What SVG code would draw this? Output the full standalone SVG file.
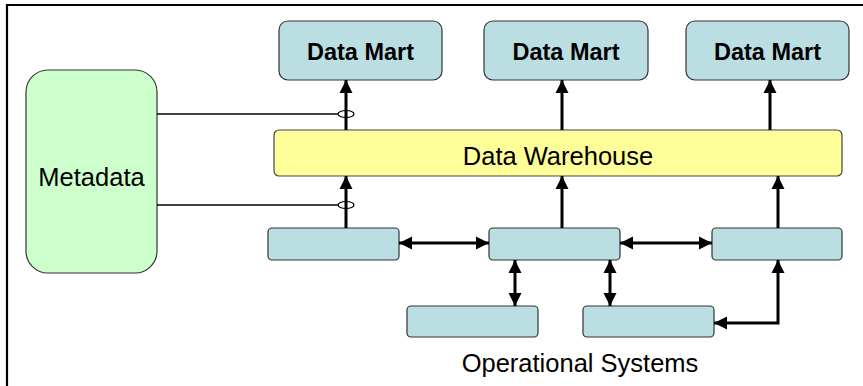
<svg xmlns="http://www.w3.org/2000/svg" width="863" height="386" viewBox="0 0 863 386">
  <style>
    .mart { fill: #BBDEE2; stroke: #333; stroke-width: 1.2; }
    .ops { fill: #BBDEE2; stroke: #333; stroke-width: 1.2; }
    .wh { fill: #FFFF99; stroke: #444; stroke-width: 1.2; }
    .meta { fill: #CCFFCC; stroke: #333; stroke-width: 1.2; }
    .lbl { font-family: "Liberation Sans", Arial, sans-serif; fill: #000; text-anchor: middle; }
    .bold { font-weight: bold; font-size: 23.5px; }
    .big { font-size: 25.5px; }
    .flow { stroke: #000; stroke-width: 3; fill: none; }
    .thin { stroke: #000; stroke-width: 1.4; fill: none; }
  </style>
  <defs>
    <marker id="ah" markerUnits="userSpaceOnUse" markerWidth="14" markerHeight="14" viewBox="0 0 14 14" refX="13" refY="7" orient="auto-start-reverse">
      <path d="M0,0.5 L13,7 L0,13.5 Z" fill="#000"/>
    </marker>
  </defs>

  <rect width="863" height="386" fill="#fff"/>
  <!-- frame -->
  <path d="M7,386 V5 H863" fill="none" stroke="#000" stroke-width="2.2"/>

  <g id="metadata">
    <rect class="meta" x="26" y="70" width="131" height="203" rx="22"/>
    <text class="lbl big" x="91.5" y="186">Metadata</text>
  </g>

  <g id="mart1">
    <rect class="mart" x="279" y="21" width="163" height="59" rx="9"/>
    <text class="lbl bold" x="360.5" y="60">Data Mart</text>
  </g>
  <g id="mart2">
    <rect class="mart" x="484" y="21" width="164" height="59" rx="9"/>
    <text class="lbl bold" x="566" y="60">Data Mart</text>
  </g>
  <g id="mart3">
    <rect class="mart" x="686" y="21" width="163" height="59" rx="9"/>
    <text class="lbl bold" x="767.5" y="60">Data Mart</text>
  </g>

  <g id="warehouse">
    <rect class="wh" x="274" y="130" width="568" height="46" rx="5"/>
    <text class="lbl big" x="558" y="165">Data Warehouse</text>
  </g>

  <g id="op1"><rect class="ops" x="268" y="228" width="131" height="32" rx="4"/></g>
  <g id="op2"><rect class="ops" x="489" y="228" width="131" height="32" rx="4"/></g>
  <g id="op3"><rect class="ops" x="712" y="228" width="130" height="32" rx="4"/></g>
  <g id="op4"><rect class="ops" x="407" y="306" width="131" height="31" rx="4"/></g>
  <g id="op5"><rect class="ops" x="583" y="306" width="131" height="31" rx="4"/></g>

  <g id="ops-label">
    <text class="lbl big" x="580" y="372">Operational Systems</text>
  </g>

  <g id="connectors">
    <!-- warehouse to marts -->
    <line class="flow" x1="346" y1="130" x2="346" y2="80" marker-end="url(#ah)"/>
    <line class="flow" x1="562" y1="130" x2="562" y2="80" marker-end="url(#ah)"/>
    <line class="flow" x1="770" y1="130" x2="770" y2="80" marker-end="url(#ah)"/>
    <!-- sources to warehouse -->
    <line class="flow" x1="346" y1="228" x2="346" y2="176" marker-end="url(#ah)"/>
    <line class="flow" x1="562" y1="228" x2="562" y2="176" marker-end="url(#ah)"/>
    <line class="flow" x1="778" y1="228" x2="778" y2="176" marker-end="url(#ah)"/>
    <!-- exchanges between operational systems -->
    <line class="flow" x1="399" y1="243" x2="489" y2="243" marker-start="url(#ah)" marker-end="url(#ah)"/>
    <line class="flow" x1="620" y1="243" x2="712" y2="243" marker-start="url(#ah)" marker-end="url(#ah)"/>
    <line class="flow" x1="515" y1="260" x2="515" y2="306" marker-start="url(#ah)" marker-end="url(#ah)"/>
    <line class="flow" x1="610" y1="260" x2="610" y2="306" marker-start="url(#ah)" marker-end="url(#ah)"/>
    <path class="flow" d="M778,260 V323 H714" marker-start="url(#ah)" marker-end="url(#ah)"/>
    <!-- metadata links with hop rings -->
    <line class="thin" x1="157" y1="114" x2="338" y2="114"/>
    <ellipse cx="346" cy="114" rx="8" ry="3.5" fill="none" stroke="#000" stroke-width="1.2"/>
    <line class="thin" x1="157" y1="205" x2="338" y2="205"/>
    <ellipse cx="346" cy="205" rx="8" ry="3.5" fill="none" stroke="#000" stroke-width="1.2"/>
  </g>
</svg>
